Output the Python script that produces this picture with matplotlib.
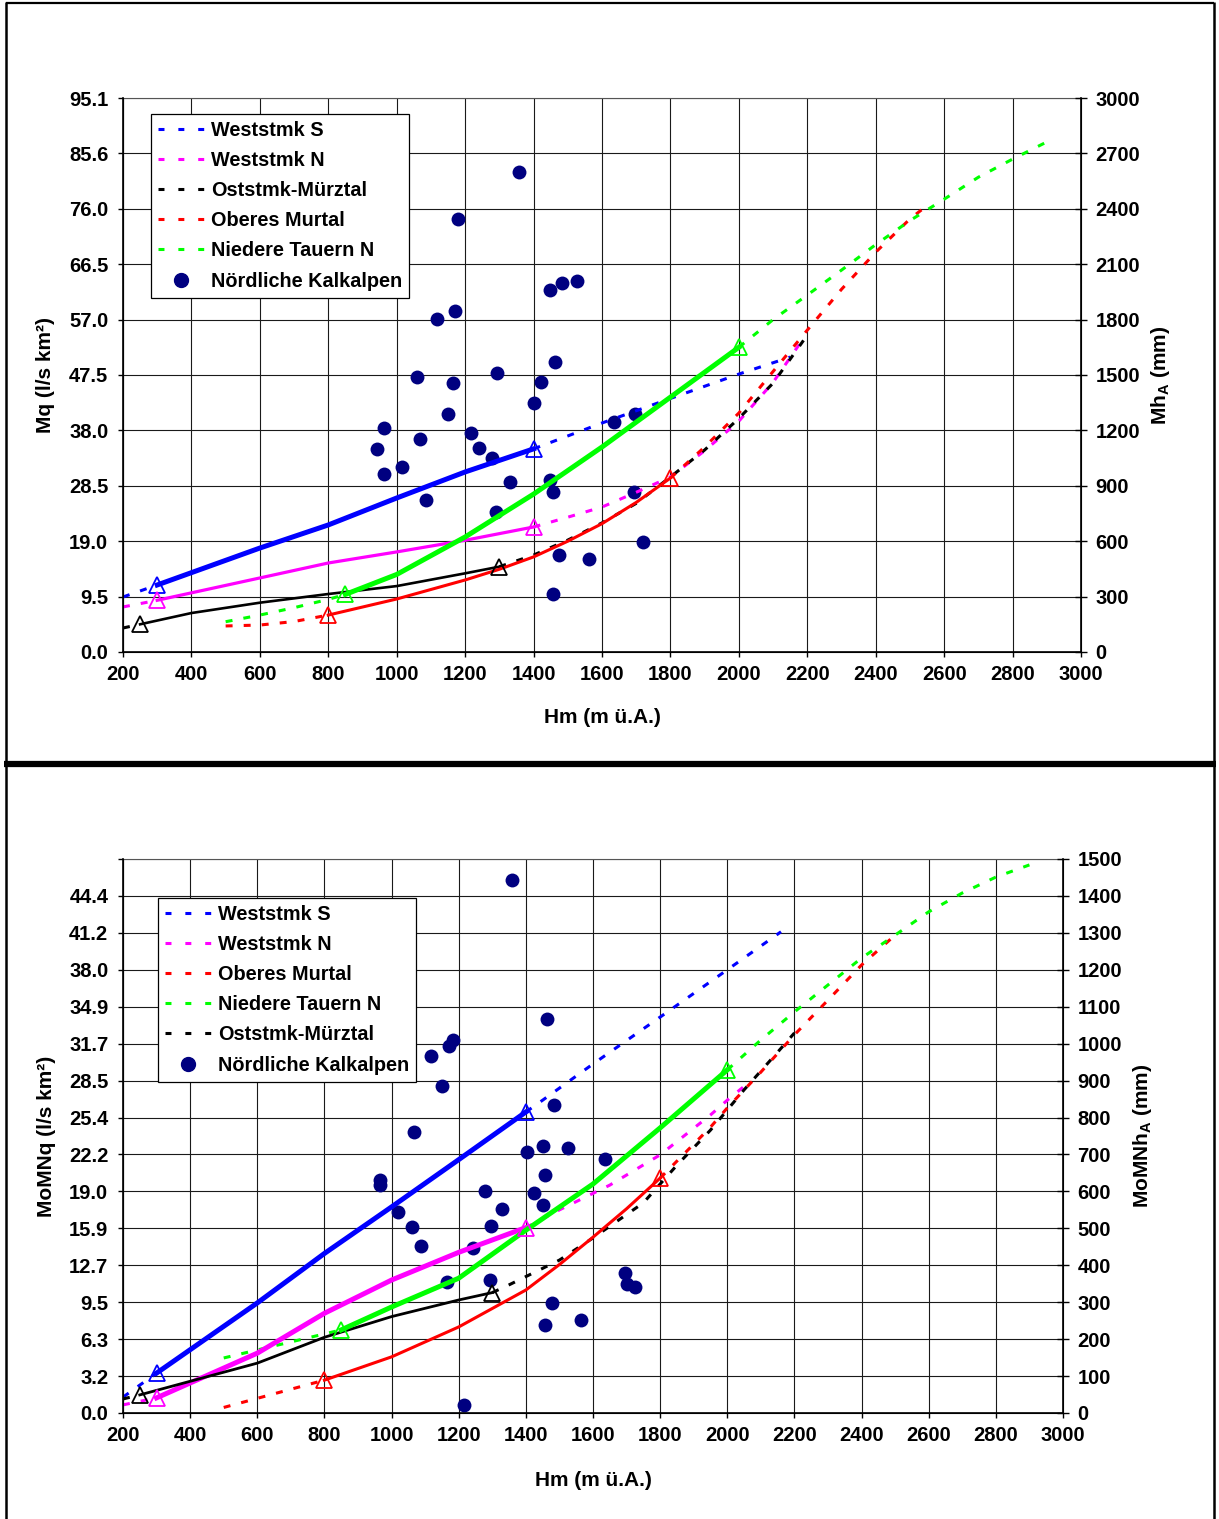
import matplotlib
matplotlib.use('Agg')
import matplotlib.pyplot as plt
from matplotlib.lines import Line2D

plt.rcParams['font.family'] = ['Liberation Sans', 'DejaVu Sans']
plt.rcParams['font.weight'] = 'bold'
plt.rcParams['mathtext.fontset'] = 'custom'
plt.rcParams['mathtext.rm'] = 'Liberation Sans:bold'
plt.rcParams['mathtext.bf'] = 'Liberation Sans:bold'
plt.rcParams['mathtext.it'] = 'Liberation Sans:bold'
plt.rcParams['lines.scale_dashes'] = False

# ---------------- DATA : top panel (Mq / MhA, values in mm) ----------------
x_ticks = [200, 400, 600, 800, 1000, 1200, 1400, 1600, 1800, 2000, 2200, 2400, 2600, 2800, 3000]

top_right_ticks = [0, 300, 600, 900, 1200, 1500, 1800, 2100, 2400, 2700, 3000]
top_left_labels = ['0.0', '9.5', '19.0', '28.5', '38.0', '47.5', '57.0', '66.5', '76.0', '85.6', '95.1']

# Weststmk S
t_wss_pre_x = [200, 300]
t_wss_pre_y = [298, 363]
t_wss_x = [300, 600, 800, 1000, 1200, 1400]
t_wss_y = [363, 563, 688, 834, 975, 1100]
t_wss_post_x = [1400, 1600, 1800, 2000, 2150]
t_wss_post_y = [1100, 1240, 1373, 1505, 1597]
# Weststmk N
t_wsn_pre_x = [200, 300]
t_wsn_pre_y = [244, 280]
t_wsn_x = [300, 600, 800, 1000, 1200, 1400]
t_wsn_y = [280, 401, 482, 542, 605, 677]
t_wsn_post_x = [1400, 1500, 1600, 1700, 1800, 1900, 2000, 2100, 2180]
t_wsn_post_y = [677, 730, 785, 865, 948, 1090, 1250, 1460, 1675]
# Oststmk-Mürztal
t_om_pre_x = [200, 250]
t_om_pre_y = [130, 150]
t_om_x = [250, 400, 600, 800, 1000, 1200, 1300]
t_om_y = [150, 211, 267, 314, 357, 426, 462]
t_om_post_x = [1300, 1400, 1500, 1600, 1700, 1800, 1900, 2000, 2100, 2190]
t_om_post_y = [462, 525, 606, 699, 805, 948, 1094, 1265, 1456, 1690]
# Oberes Murtal
t_ob_pre_x = [500, 600, 700, 800]
t_ob_pre_y = [141, 146, 165, 200]
t_ob_x = [800, 1000, 1200, 1300, 1400, 1500, 1600, 1700, 1800]
t_ob_y = [200, 287, 390, 448, 515, 600, 695, 810, 942]
t_ob_post_x = [1800, 1900, 2000, 2100, 2200, 2300, 2400, 2500, 2555]
t_ob_post_y = [942, 1110, 1294, 1519, 1743, 1964, 2165, 2345, 2425]
# Niedere Tauern N
t_nt_pre_x = [500, 600, 700, 800, 850]
t_nt_pre_y = [164, 200, 240, 285, 312]
t_nt_x = [850, 1000, 1200, 1400, 1600, 1800, 2000]
t_nt_y = [312, 420, 623, 855, 1110, 1380, 1650]
t_nt_post_x = [2000, 2100, 2200, 2300, 2400, 2500, 2600, 2700, 2800, 2900]
t_nt_post_y = [1650, 1800, 1933, 2068, 2206, 2336, 2452, 2571, 2669, 2762]
# Nördliche Kalkalpen
t_nk_x = [1357, 1179, 1448, 1483, 1527, 1118, 1170, 1463, 1059, 1165, 1293, 1422,
          1401, 1150, 963, 1217, 1635, 1696, 942, 1068, 1240, 1278, 963, 1015,
          1331, 1448, 1457, 1086, 1694, 1290, 1720, 1474, 1562, 1457]
t_nk_y = [2599, 2345, 1960, 1998, 2009, 1803, 1847, 1570, 1489, 1457, 1511, 1462,
          1348, 1289, 1213, 1186, 1245, 1289, 1099, 1153, 1105, 1051, 964, 1002,
          921, 931, 866, 823, 866, 758, 596, 525, 504, 314]

# ---------------- DATA : bottom panel (MoMNq / MoMNhA, values in mm) ----------------
bot_right_ticks = [0, 100, 200, 300, 400, 500, 600, 700, 800, 900, 1000, 1100, 1200, 1300, 1400, 1500]
bot_left_labels = ['0.0', '3.2', '6.3', '9.5', '12.7', '15.9', '19.0', '22.2', '25.4',
                   '28.5', '31.7', '34.9', '38.0', '41.2', '44.4', '']

b_wss_pre_x = [200, 300]
b_wss_pre_y = [43, 108]
b_wss_x = [300, 600, 800, 1000, 1200, 1400]
b_wss_y = [108, 298, 432, 558, 686, 815]
b_wss_post_x = [1400, 1450, 1600, 1800, 2000, 2160]
b_wss_post_y = [815, 847, 945, 1072, 1200, 1303]

b_wsn_pre_x = [200, 300]
b_wsn_pre_y = [22, 41]
b_wsn_x = [300, 600, 800, 1000, 1200, 1400]
b_wsn_y = [41, 162, 270, 360, 435, 502]
b_wsn_post_x = [1400, 1500, 1650, 1800, 1950, 2000, 2055]
b_wsn_post_y = [502, 550, 617, 699, 807, 847, 888]

b_om_pre_x = [200, 250]
b_om_pre_y = [38, 49]
b_om_x = [250, 600, 800, 1000, 1200, 1300]
b_om_y = [49, 135, 205, 261, 306, 326]
b_om_post_x = [1300, 1350, 1500, 1600, 1750, 1850, 1950, 2050, 2150, 2200]
b_om_post_y = [326, 347, 414, 474, 569, 671, 766, 875, 977, 1029]

b_ob_pre_x = [500, 800]
b_ob_pre_y = [15, 89]
b_ob_x = [800, 1000, 1200, 1400, 1500, 1600, 1700, 1800]
b_ob_y = [89, 152, 233, 333, 402, 476, 553, 636]
b_ob_post_x = [1800, 1950, 2000, 2100, 2200, 2300, 2400, 2500]
b_ob_post_y = [636, 774, 826, 923, 1024, 1118, 1213, 1294]

b_nt_pre_x = [500, 850]
b_nt_pre_y = [149, 225]
b_nt_x = [850, 1000, 1200, 1400, 1600, 1800, 2000]
b_nt_y = [225, 287, 365, 495, 620, 772, 929]
b_nt_post_x = [2000, 2100, 2200, 2300, 2400, 2500, 2600, 2700, 2800, 2900]
b_nt_post_y = [929, 1010, 1086, 1159, 1232, 1294, 1357, 1408, 1451, 1484]

b_nk_x = [1358, 1464, 1182, 1172, 1117, 1149, 1484, 1068, 966, 966, 1403, 1451,
          1526, 1636, 1457, 1423, 1278, 1451, 1330, 1018, 1062, 1295, 1087, 1242,
          1166, 1293, 1696, 1700, 1725, 1478, 1458, 1563, 1217]
b_nk_y = [1442, 1066, 1011, 994, 967, 885, 835, 761, 632, 617, 707, 724,
          718, 688, 644, 596, 600, 563, 552, 545, 504, 506, 451, 448,
          355, 361, 379, 349, 340, 297, 238, 252, 23]

# ---------------- styling ----------------
C_BLUE, C_MAG, C_BLK, C_RED, C_GRN, C_NAVY = '#0000FF', '#FF00FF', '#000000', '#FF0000', '#00FF00', '#000080'
DASH = (5.0, 8.0)
FS_TICK = 14.5
FS_LAB = 15
FS_LEG = 14.3

W, H = 1219, 1519
fig = plt.figure(figsize=(W / 100, H / 100), dpi=100)


def draw_series(ax, px, py, sx, sy, qx, qy, color, lw):
    ax.plot(px, py, color=color, lw=2.2, dashes=DASH, zorder=3, solid_capstyle='butt')
    ax.plot(qx, qy, color=color, lw=2.2, dashes=DASH, zorder=3)
    ax.plot(sx, sy, color=color, lw=lw, zorder=4, solid_joinstyle='round')
    ax.plot([sx[0], sx[-1]], [sy[0], sy[-1]], ls='none', marker='^', ms=11,
            mfc='none', mec=color, mew=1.3, zorder=5)


def style_axes(ax, ymax, rticks, llabels, xlab_y, ylab_left, ylab_right, ylx, yrx):
    ax.set_xlim(200, 3000)
    ax.set_ylim(0, ymax)
    ax.set_xticks(x_ticks)
    ax.set_xticklabels([str(v) for v in x_ticks])
    ax.set_yticks(rticks)
    ax.set_yticklabels(llabels)
    ax.grid(True, color='#1a1a1a', lw=0.8)
    ax.set_axisbelow(True)
    for s in ['left', 'bottom']:
        ax.spines[s].set_color('black')
        ax.spines[s].set_linewidth(1.2)
    ax.spines['top'].set_color('#555555')
    ax.spines['top'].set_linewidth(0.8)
    ax.tick_params(axis='both', direction='out', length=3.6, width=1.0,
                   labelsize=FS_TICK)
    ax.tick_params(axis='x', pad=6)
    ax.tick_params(axis='y', pad=7)
    ax.set_xlabel('Hm (m ü.A.)', fontsize=FS_LAB, fontweight='bold')
    ax.xaxis.set_label_coords(0.5, xlab_y)
    ax.xaxis.label.set_va('center')
    ax.set_ylabel(ylab_left, fontsize=FS_LAB, fontweight='bold')
    ax.yaxis.set_label_coords(ylx, 0.5)
    ax.yaxis.label.set_va('center')
    ax2 = ax.twinx()
    ax2.set_ylim(0, ymax)
    ax2.set_yticks(rticks)
    ax2.set_yticklabels([str(v) for v in rticks])
    ax2.tick_params(axis='y', direction='inout', length=9, width=1.0,
                    labelsize=FS_TICK, pad=6)
    ax2.spines['right'].set_color('black')
    ax2.spines['right'].set_linewidth(1.2)
    ax2.spines['top'].set_visible(False)
    ax2.set_ylabel(ylab_right, fontsize=FS_LAB, fontweight='bold')
    ax2.yaxis.set_label_coords(yrx, 0.5)
    ax2.yaxis.label.set_va('center')
    return ax2


def leg_handle(color):
    return Line2D([], [], color=color, lw=2.2, dashes=(4.3, 10.0))


scat_handle = Line2D([], [], ls='none', marker='o', ms=10, color=C_NAVY)

LEG_KW = dict(loc='upper left', borderaxespad=0, fontsize=FS_LEG, frameon=True,
              fancybox=False, edgecolor='black', framealpha=1, handlelength=2.37,
              handletextpad=0.3, borderpad=0.35, labelspacing=0.56)

# ---------------- top panel ----------------
ax = fig.add_axes([123 / W, 1 - 652 / H, 958 / W, 554 / H])
ax.scatter(t_nk_x, t_nk_y, s=100, color=C_NAVY, zorder=2, linewidths=0)
draw_series(ax, t_wss_pre_x, t_wss_pre_y, t_wss_x, t_wss_y, t_wss_post_x, t_wss_post_y, C_BLUE, 3.6)
draw_series(ax, t_wsn_pre_x, t_wsn_pre_y, t_wsn_x, t_wsn_y, t_wsn_post_x, t_wsn_post_y, C_MAG, 2.3)
draw_series(ax, t_om_pre_x, t_om_pre_y, t_om_x, t_om_y, t_om_post_x, t_om_post_y, C_BLK, 1.9)
draw_series(ax, t_ob_pre_x, t_ob_pre_y, t_ob_x, t_ob_y, t_ob_post_x, t_ob_post_y, C_RED, 2.2)
draw_series(ax, t_nt_pre_x, t_nt_pre_y, t_nt_x, t_nt_y, t_nt_post_x, t_nt_post_y, C_GRN, 3.6)
style_axes(ax, 3000, top_right_ticks, top_left_labels, -0.119,
           'Mq (l/s km²)', r'Mh$_{\mathrm{A}}$ (mm)', -0.0804, 1.0825)
top_labels = ['Weststmk S', 'Weststmk N', 'Oststmk-Mürztal', 'Oberes Murtal',
              'Niedere Tauern N', 'Nördliche Kalkalpen']
top_handles = [leg_handle(C_BLUE), leg_handle(C_MAG), leg_handle(C_BLK),
               leg_handle(C_RED), leg_handle(C_GRN), scat_handle]
lg = ax.legend(top_handles, top_labels,
               bbox_to_anchor=((151 - 123) / 958, (652 - 114) / 554), **LEG_KW)
lg.get_frame().set_linewidth(0.9)
lg.set_zorder(10)

# ---------------- bottom panel ----------------
bx = fig.add_axes([123 / W, 1 - 1413 / H, 940 / W, 554 / H])
bx.scatter(b_nk_x, b_nk_y, s=100, color=C_NAVY, zorder=2, linewidths=0)
draw_series(bx, b_wss_pre_x, b_wss_pre_y, b_wss_x, b_wss_y, b_wss_post_x, b_wss_post_y, C_BLUE, 3.6)
draw_series(bx, b_wsn_pre_x, b_wsn_pre_y, b_wsn_x, b_wsn_y, b_wsn_post_x, b_wsn_post_y, C_MAG, 3.6)
draw_series(bx, b_om_pre_x, b_om_pre_y, b_om_x, b_om_y, b_om_post_x, b_om_post_y, C_BLK, 2.0)
draw_series(bx, b_ob_pre_x, b_ob_pre_y, b_ob_x, b_ob_y, b_ob_post_x, b_ob_post_y, C_RED, 2.2)
draw_series(bx, b_nt_pre_x, b_nt_pre_y, b_nt_x, b_nt_y, b_nt_post_x, b_nt_post_y, C_GRN, 3.6)
style_axes(bx, 1500, bot_right_ticks, bot_left_labels, -0.121,
           'MoMNq (l/s km²)', r'MoMNh$_{\mathrm{A}}$ (mm)', -0.0819, 1.085)
bot_labels = ['Weststmk S', 'Weststmk N', 'Oberes Murtal', 'Niedere Tauern N',
              'Oststmk-Mürztal', 'Nördliche Kalkalpen']
bot_handles = [leg_handle(C_BLUE), leg_handle(C_MAG), leg_handle(C_RED),
               leg_handle(C_GRN), leg_handle(C_BLK), scat_handle]
lg2 = bx.legend(bot_handles, bot_labels,
                bbox_to_anchor=((158 - 123) / 940, (1413 - 898) / 554), **LEG_KW)
lg2.get_frame().set_linewidth(0.9)
lg2.set_zorder(10)

# ---------------- panel frames ----------------
def fl(x0, y0, x1, y1, lw):
    fig.add_artist(Line2D([x0 / W, x1 / W], [1 - y0 / H, 1 - y1 / H],
                          transform=fig.transFigure, color='black', lw=lw,
                          solid_capstyle='butt'))

fl(6, 3, 1214, 3, 1.6)
fl(6, 2, 6, 1519, 1.8)
fl(1214, 2, 1214, 1519, 1.8)
fl(4, 764, 1216, 764, 4.5)

fig.savefig('out.png', dpi=100)
